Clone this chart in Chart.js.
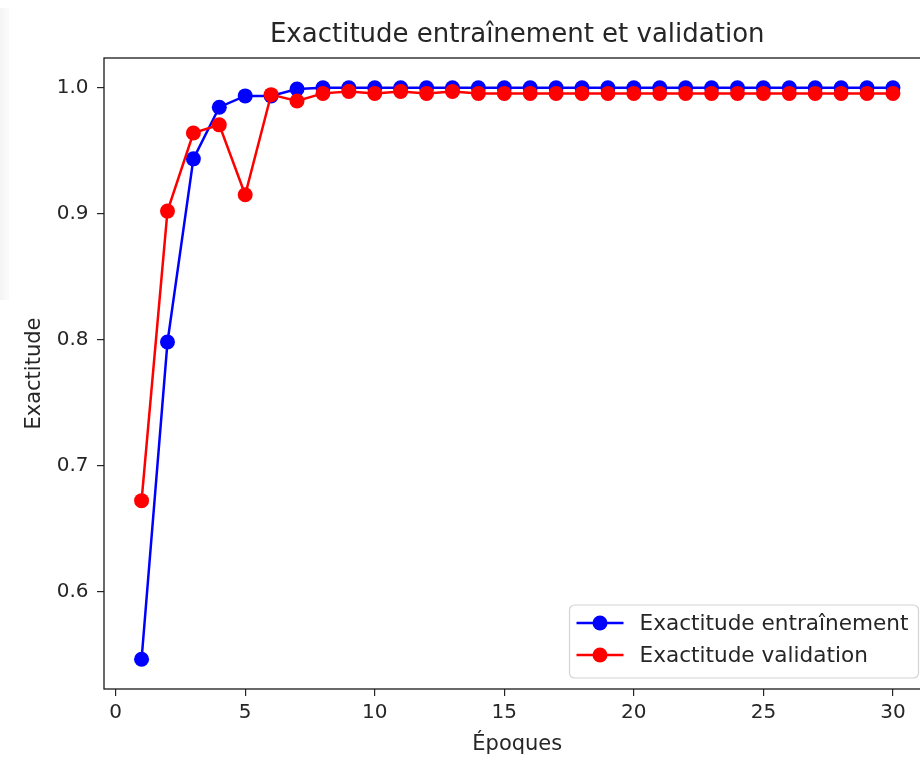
<!DOCTYPE html>
<html>
<head>
<meta charset="utf-8">
<script src="https://cdn.jsdelivr.net/npm/chart.js@4.4.1/dist/chart.umd.min.js"></script>
<style>
  html, body { margin: 0; padding: 0; background: #ffffff; overflow: hidden; width: 920px; height: 760px; }
  #wrap { position: absolute; left: 0; top: 0; width: 938px; height: 760px; }
  #strip { position: absolute; left: 0; top: 8px; width: 9px; height: 292px;
           background: linear-gradient(to right, #f4f4f4, #fbfbfb); }
</style>
</head>
<body>
<div id="strip"></div>
<div id="wrap"><canvas id="c" width="938" height="760"></canvas></div>
<script>
// ---- data ----
const epochs = [1,2,3,4,5,6,7,8,9,10,11,12,13,14,15,16,17,18,19,20,21,22,23,24,25,26,27,28,29,30];
const trainAcc = [0.546, 0.798, 0.9435, 0.9845, 0.9935, 0.9935, 0.999, 1.0, 1.0, 1.0,
                  1.0, 1.0, 1.0, 1.0, 1.0, 1.0, 1.0, 1.0, 1.0, 1.0,
                  1.0, 1.0, 1.0, 1.0, 1.0, 1.0, 1.0, 1.0, 1.0, 1.0];
const valAcc = [0.672, 0.902, 0.964, 0.9705, 0.915, 0.9945, 0.9895, 0.9955, 0.997, 0.9955,
                0.997, 0.9955, 0.997, 0.9955, 0.9955, 0.9955, 0.9955, 0.9955, 0.9955, 0.9955,
                0.9955, 0.9955, 0.9955, 0.9955, 0.9955, 0.9955, 0.9955, 0.9955, 0.9955, 0.9955];
const xTickValues = [0, 5, 10, 15, 20, 25, 30];
const yTickValues = [0.6, 0.7, 0.8, 0.9, 1.0];
const titleText = 'Exactitude entraînement et validation';
const xLabel = 'Époques';
const yLabel = 'Exactitude';
const trainLabel = 'Exactitude entraînement';
const valLabel = 'Exactitude validation';

const FONT = '"DejaVu Sans", "Liberation Sans", sans-serif';
const TXT = '#262626';

const toXY = (vals) => epochs.map((e, i) => ({ x: e, y: vals[i] }));

const framePlugin = {
  id: 'frameTitleLegend',
  afterDraw(chart) {
    const ctx = chart.ctx;
    const a = chart.chartArea;
    ctx.save();
    // frame (spines)
    ctx.strokeStyle = '#1a1a1a';
    ctx.lineWidth = 1.3;
    ctx.strokeRect(a.left, a.top, a.right - a.left, a.bottom - a.top);
    // title
    ctx.fillStyle = TXT;
    ctx.font = '26px ' + FONT;
    ctx.textAlign = 'center';
    ctx.textBaseline = 'alphabetic';
    ctx.fillText(titleText, (a.left + a.right) / 2, a.top - 16);
    // legend (lower right, inside axes)
    const ds = chart.data.datasets.slice().sort((p, q) => p.legendIndex - q.legendIndex);
    ctx.font = '21.6px ' + FONT;
    let maxW = 0;
    ds.forEach(d => { maxW = Math.max(maxW, ctx.measureText(d.label).width); });
    const right = a.right - 12;
    const bottom = a.bottom - 11;
    const rowGap = 32;
    const boxW = 70 + maxW + 10;
    const left = right - boxW;
    const top = bottom - 23 - rowGap * (ds.length - 1) - 18;
    ctx.beginPath();
    if (ctx.roundRect) ctx.roundRect(left, top, boxW, bottom - top, 5);
    else ctx.rect(left, top, boxW, bottom - top);
    ctx.fillStyle = 'rgba(255,255,255,0.8)';
    ctx.fill();
    ctx.strokeStyle = '#d3d3d3';
    ctx.lineWidth = 1.2;
    ctx.stroke();
    ds.forEach((d, i) => {
      const cy = top + 18 + i * rowGap;
      ctx.strokeStyle = d.borderColor;
      ctx.lineWidth = 2.5;
      ctx.beginPath();
      ctx.moveTo(left + 7, cy);
      ctx.lineTo(left + 54, cy);
      ctx.stroke();
      ctx.fillStyle = d.borderColor;
      ctx.beginPath();
      ctx.arc(left + 30.5, cy, 7.5, 0, Math.PI * 2);
      ctx.fill();
      ctx.fillStyle = TXT;
      ctx.textAlign = 'left';
      ctx.textBaseline = 'middle';
      ctx.fillText(d.label, left + 70, cy + 1);
    });
    ctx.restore();
  }
};

const zeroPad = (s) => { s.paddingLeft = 0; s.paddingRight = 0; s.paddingTop = 0; s.paddingBottom = 0; };

new Chart(document.getElementById('c'), {
  type: 'line',
  data: {
    datasets: [
      {
        label: trainLabel, legendIndex: 0, order: 1,
        data: toXY(trainAcc),
        borderColor: '#0000ff', backgroundColor: '#0000ff',
        pointBackgroundColor: '#0000ff', pointBorderWidth: 0,
        pointRadius: 7.5, borderWidth: 2.5, tension: 0, fill: false
      },
      {
        label: valLabel, legendIndex: 1, order: 0,
        data: toXY(valAcc),
        borderColor: '#ff0000', backgroundColor: '#ff0000',
        pointBackgroundColor: '#ff0000', pointBorderWidth: 0,
        pointRadius: 7.5, borderWidth: 2.5, tension: 0, fill: false
      }
    ]
  },
  options: {
    responsive: false,
    animation: false,
    devicePixelRatio: 1,
    layout: { padding: { top: 58, left: 0, right: 2, bottom: 0 } },
    plugins: { legend: { display: false }, title: { display: false }, tooltip: { enabled: false } },
    scales: {
      x: {
        type: 'linear',
        min: -0.45, max: 31.45,
        afterBuildTicks: (s) => { s.ticks = xTickValues.map(v => ({ value: v })); },
        afterFit: (s) => { s.height = 71; zeroPad(s); },
        grid: { drawOnChartArea: false, drawTicks: true, tickLength: 7, color: '#262626', lineWidth: 1.2 },
        border: { display: false },
        ticks: { autoSkip: false, maxRotation: 0, padding: 5, color: TXT,
                 font: { family: FONT, size: 20 }, callback: (v) => String(v) },
        title: { display: true, text: xLabel, color: TXT, font: { family: FONT, size: 21 },
                 padding: { top: 0, bottom: 3 } }
      },
      y: {
        type: 'linear',
        min: 0.5224, max: 1.0236,
        afterBuildTicks: (s) => { s.ticks = yTickValues.map(v => ({ value: v })); },
        afterFit: (s) => { s.width = 104; zeroPad(s); },
        grid: { drawOnChartArea: false, drawTicks: true, tickLength: 7, color: '#262626', lineWidth: 1.2 },
        border: { display: false },
        ticks: { autoSkip: false, padding: 8.5, color: TXT,
                 font: { family: FONT, size: 20 }, callback: (v) => Number(v).toFixed(1) },
        title: { display: true, text: yLabel, color: TXT, font: { family: FONT, size: 21 },
                 padding: { top: 22, bottom: 0 } }
      }
    }
  },
  plugins: [framePlugin]
});
</script>
</body>
</html>
